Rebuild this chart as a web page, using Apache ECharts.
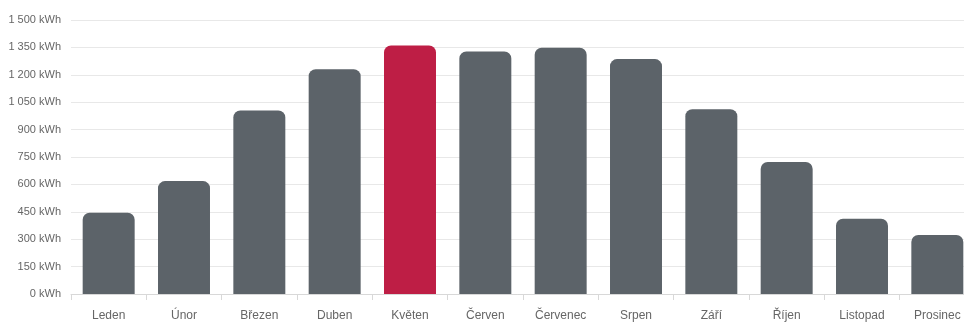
<!DOCTYPE html>
<html>
<head>
<meta charset="utf-8">
<script src="https://cdn.jsdelivr.net/npm/echarts@6/dist/echarts.min.js"></script>
<style>html,body{margin:0;padding:0;background:#fff}#c{width:964px;height:322px}</style>
</head>
<body>
<div id="c"></div>
<script>
const categories = ['Leden','Únor','Březen','Duben','Květen','Červen','Červenec','Srpen','Září','Říjen','Listopad','Prosinec'];
const values = [445, 618, 1005, 1231, 1360, 1328, 1348, 1286, 1012, 723, 412, 323];
const highlightIndex = 4;
const yTicks = [0, 150, 300, 450, 600, 750, 900, 1050, 1200, 1350, 1500];

function fmt(v){
  return String(v).replace(/\B(?=(\d{3})+(?!\d))/g, ' ') + ' kWh';
}

const chart = echarts.init(document.getElementById('c'), null, {renderer:'canvas'});
chart.setOption({
  animation:false,
  grid:{left:71, top:20, bottom:28, width:904, outerBoundsMode:'none', containLabel:false},
  xAxis:{
    type:'category',
    data:categories,
    axisLine:{lineStyle:{color:'#d8d8d8'}},
    axisTick:{show:true, length:6, lineStyle:{color:'#d8d8d8'}},
    axisLabel:{color:'#666', fontSize:12, fontFamily:'Liberation Sans, Arial, sans-serif', margin:16}
  },
  yAxis:{
    type:'value',
    min:yTicks[0], max:yTicks[yTicks.length-1], interval:150,
    axisLine:{show:false}, axisTick:{show:false},
    splitLine:{lineStyle:{color:'#e8e8e8'}},
    axisLabel:{color:'#666', fontSize:11, fontFamily:'Liberation Sans, Arial, sans-serif', margin:10, formatter:fmt}
  },
  series:[{
    type:'bar',
    barWidth:'69%',
    data:values.map((v,i)=>({value:v, itemStyle:{color: i===highlightIndex ? '#be1e45' : '#5c6369'}})),
    itemStyle:{borderRadius:[7,7,0,0]}
  }]
});
</script>
</body>
</html>
